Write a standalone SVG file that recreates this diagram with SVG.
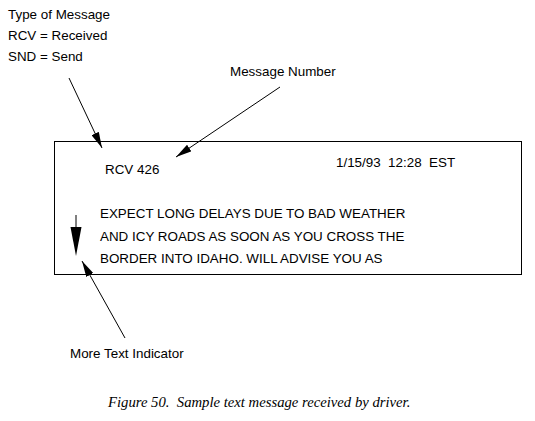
<svg xmlns="http://www.w3.org/2000/svg" width="535" height="421" viewBox="0 0 535 421">
<defs>
<style>
text{font-family:"Liberation Sans",Arial,sans-serif;font-size:13.4px;fill:#000}
.cap{font-family:"Liberation Serif","Times New Roman",serif;font-style:italic;font-size:14.7px}
.ln{stroke:#000;stroke-width:1;fill:none}
</style>
<marker id="ah" viewBox="0 0 16 8" refX="16" refY="4" markerWidth="16" markerHeight="8" markerUnits="userSpaceOnUse" orient="auto">
<path d="M0,0 L16,4 L0,8 Z" fill="#000"/>
</marker>
</defs>
<rect width="535" height="421" fill="#fff"/>
<g id="screen">
<rect x="54.5" y="141.5" width="467" height="133" class="ln"/>
<text x="105" y="174">RCV 426</text>
<text x="336" y="167" xml:space="preserve">1/15/93  12:28  EST</text>
<text x="100" y="218">EXPECT LONG DELAYS DUE TO BAD WEATHER</text>
<text x="100" y="241">AND ICY ROADS AS SOON AS YOU CROSS THE</text>
<text x="100" y="263">BORDER INTO IDAHO. WILL ADVISE YOU AS</text>
<line x1="76" y1="215" x2="76" y2="228" class="ln"/>
<polygon points="70.5,227 81.5,227 76,256" fill="#000"/>
</g>
<g id="type-label">
<text x="8" y="19">Type of Message</text>
<text x="8" y="40">RCV = Received</text>
<text x="8" y="61">SND = Send</text>
</g>
<g id="number-label"><text x="230" y="76">Message Number</text></g>
<g id="more-label"><text x="70" y="358">More Text Indicator</text></g>
<g id="connectors">
<line x1="69" y1="78" x2="102" y2="148" class="ln" marker-end="url(#ah)"/>
<line x1="280" y1="87" x2="176" y2="157" class="ln" marker-end="url(#ah)"/>
<line x1="125" y1="338" x2="82" y2="261" class="ln" marker-end="url(#ah)"/>
</g>
<text class="cap" x="108" y="407" xml:space="preserve">Figure 50.  Sample text message received by driver.</text>
</svg>
